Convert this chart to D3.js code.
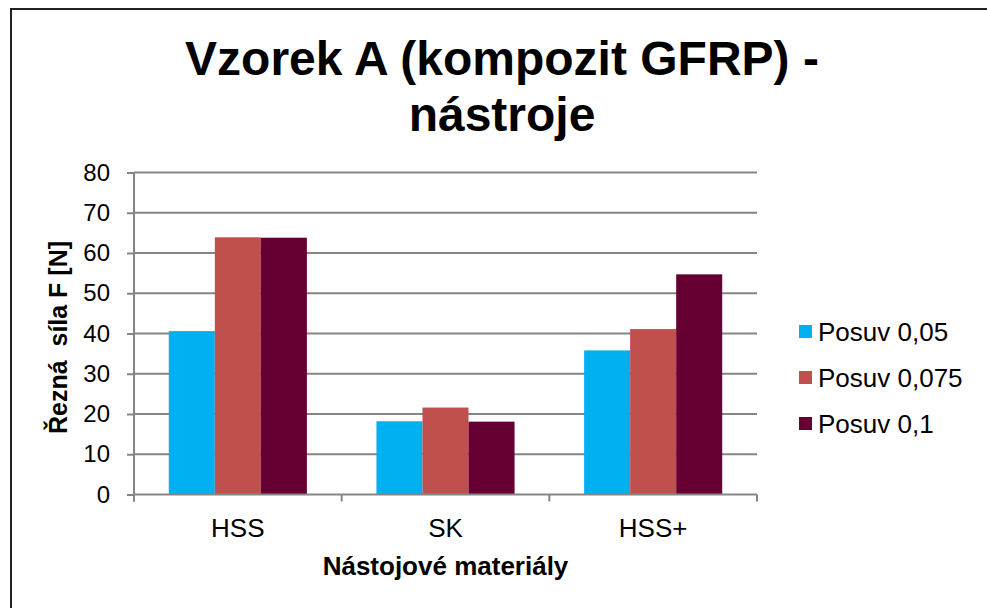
<!DOCTYPE html>
<html>
<head>
<meta charset="utf-8">
<script src="https://cdn.jsdelivr.net/npm/d3@7"></script>
<style>
  body { margin: 0; background: #fff; }
  text { font-family: "Liberation Sans", Arial, sans-serif; fill: #000; }
</style>
</head>
<body>
<div id="chart"></div>
<script>
// data
var categories = ["HSS", "SK", "HSS+"];
var seriesNames = ["Posuv 0,05", "Posuv 0,075", "Posuv 0,1"];
var posuv005 = [40.6, 18.2, 35.8];
var posuv0075 = [63.9, 21.6, 41.1];
var posuv01 = [63.8, 18.1, 54.7];
var yTicks = [0, 10, 20, 30, 40, 50, 60, 70, 80];
var colors = ["#00B0F0", "#C0504D", "#660033"];

var W = 987, H = 608;
var margin = {top: 172.5, right: 230, bottom: 113.5, left: 134};
var width = W - margin.left - margin.right,
    height = H - margin.top - margin.bottom;

var svg = d3.select("#chart")
  .append("svg")
    .attr("width", W)
    .attr("height", H);

// outer frame (runs off the right/bottom edge)
svg.append("rect")
  .attr("x", 11).attr("y", 9)
  .attr("width", 1000).attr("height", 700)
  .attr("fill", "none")
  .attr("stroke", "#222")
  .attr("stroke-width", 2);

// title
var title = svg.append("text")
  .attr("text-anchor", "middle")
  .style("font-size", "48px")
  .style("font-weight", "bold");
title.append("tspan").attr("x", 502).attr("y", 75).text("Vzorek A (kompozit GFRP) -");
title.append("tspan").attr("x", 502).attr("y", 131).text("nástroje");

var g = svg.append("g")
  .attr("transform", "translate(" + margin.left + "," + margin.top + ")");

var x0 = d3.scaleBand()
  .domain(categories)
  .range([0, width])
  .paddingInner(0.335)
  .paddingOuter(0.1675);

var x1 = d3.scaleBand()
  .domain(seriesNames)
  .range([0, x0.bandwidth()]);

var y = d3.scaleLinear()
  .domain([0, 80])
  .range([height, 0]);

// gridlines
g.append("g")
  .selectAll("line")
  .data(yTicks.slice(1))
  .enter()
  .append("line")
    .attr("x1", 0).attr("x2", width)
    .attr("y1", function (d) { return y(d); })
    .attr("y2", function (d) { return y(d); })
    .attr("stroke", "#858585")
    .attr("stroke-width", 2);

// bars
var table = categories.map(function (c, i) {
  return {cat: c, vals: [posuv005[i], posuv0075[i], posuv01[i]]};
});

g.append("g")
  .selectAll("g")
  .data(table)
  .enter()
  .append("g")
    .attr("transform", function (d) { return "translate(" + x0(d.cat) + ",0)"; })
  .selectAll("rect")
  .data(function (d) { return d.vals.map(function (v, j) { return {name: seriesNames[j], v: v, j: j}; }); })
  .enter()
  .append("rect")
    .attr("x", function (d) { return x1(d.name); })
    .attr("width", x1.bandwidth())
    .attr("y", function (d) { return y(d.v); })
    .attr("height", function (d) { return height - y(d.v); })
    .attr("fill", function (d) { return colors[d.j]; });

// Y axis
var yAxis = g.append("g")
  .call(d3.axisLeft(y).tickValues(yTicks).tickSize(7).tickPadding(17));
yAxis.select(".domain").attr("stroke", "#858585").attr("stroke-width", 2)
  .attr("d", "M0,0V" + (height + 7));
yAxis.selectAll(".tick line").attr("stroke", "#858585").attr("stroke-width", 2);
yAxis.selectAll(".tick text")
  .style("font-size", "24px")
  .style("font-family", "Liberation Sans, Arial, sans-serif")
  .attr("fill", "#000");

// X axis (ticks at category boundaries)
var bounds = d3.range(categories.length + 1).map(function (i) { return i * width / categories.length; });
var xAxis = g.append("g").attr("transform", "translate(0," + height + ")");
xAxis.append("line")
  .attr("x1", 0).attr("x2", width)
  .attr("stroke", "#858585").attr("stroke-width", 2);
xAxis.selectAll(".bt")
  .data(bounds)
  .enter()
  .append("line")
    .attr("x1", function (d) { return d; })
    .attr("x2", function (d) { return d; })
    .attr("y1", 0).attr("y2", 7)
    .attr("stroke", "#858585").attr("stroke-width", 2);
xAxis.selectAll(".lbl")
  .data(categories)
  .enter()
  .append("text")
    .attr("x", function (d) { return x0(d) + x0.bandwidth() / 2; })
    .attr("y", 42)
    .attr("text-anchor", "middle")
    .style("font-size", "26px")
    .text(function (d) { return d; });

// axis titles
g.append("text")
  .attr("x", width / 2)
  .attr("y", height + 80)
  .attr("text-anchor", "middle")
  .style("font-size", "26px")
  .style("font-weight", "bold")
  .text("Nástojové materiály");

g.append("text")
  .attr("transform", "translate(" + (67 - margin.left) + "," + (height / 2 + 4) + ") rotate(-90)")
  .attr("text-anchor", "middle")
  .style("font-size", "25px")
  .style("font-weight", "bold")
  .style("white-space", "pre")
  .text("Řezná  síla F [N]");

// legend
var legend = svg.append("g")
  .attr("transform", "translate(799,332)");
var item = legend.selectAll("g")
  .data(seriesNames)
  .enter()
  .append("g")
    .attr("transform", function (d, i) { return "translate(0," + (i * 46) + ")"; });
item.append("rect")
  .attr("x", 0).attr("y", -7)
  .attr("width", 13).attr("height", 13)
  .attr("fill", function (d, i) { return colors[i]; });
item.append("text")
  .attr("x", 19)
  .attr("y", 9)
  .style("font-size", "26px")
  .text(function (d) { return d; });
</script>
</body>
</html>
